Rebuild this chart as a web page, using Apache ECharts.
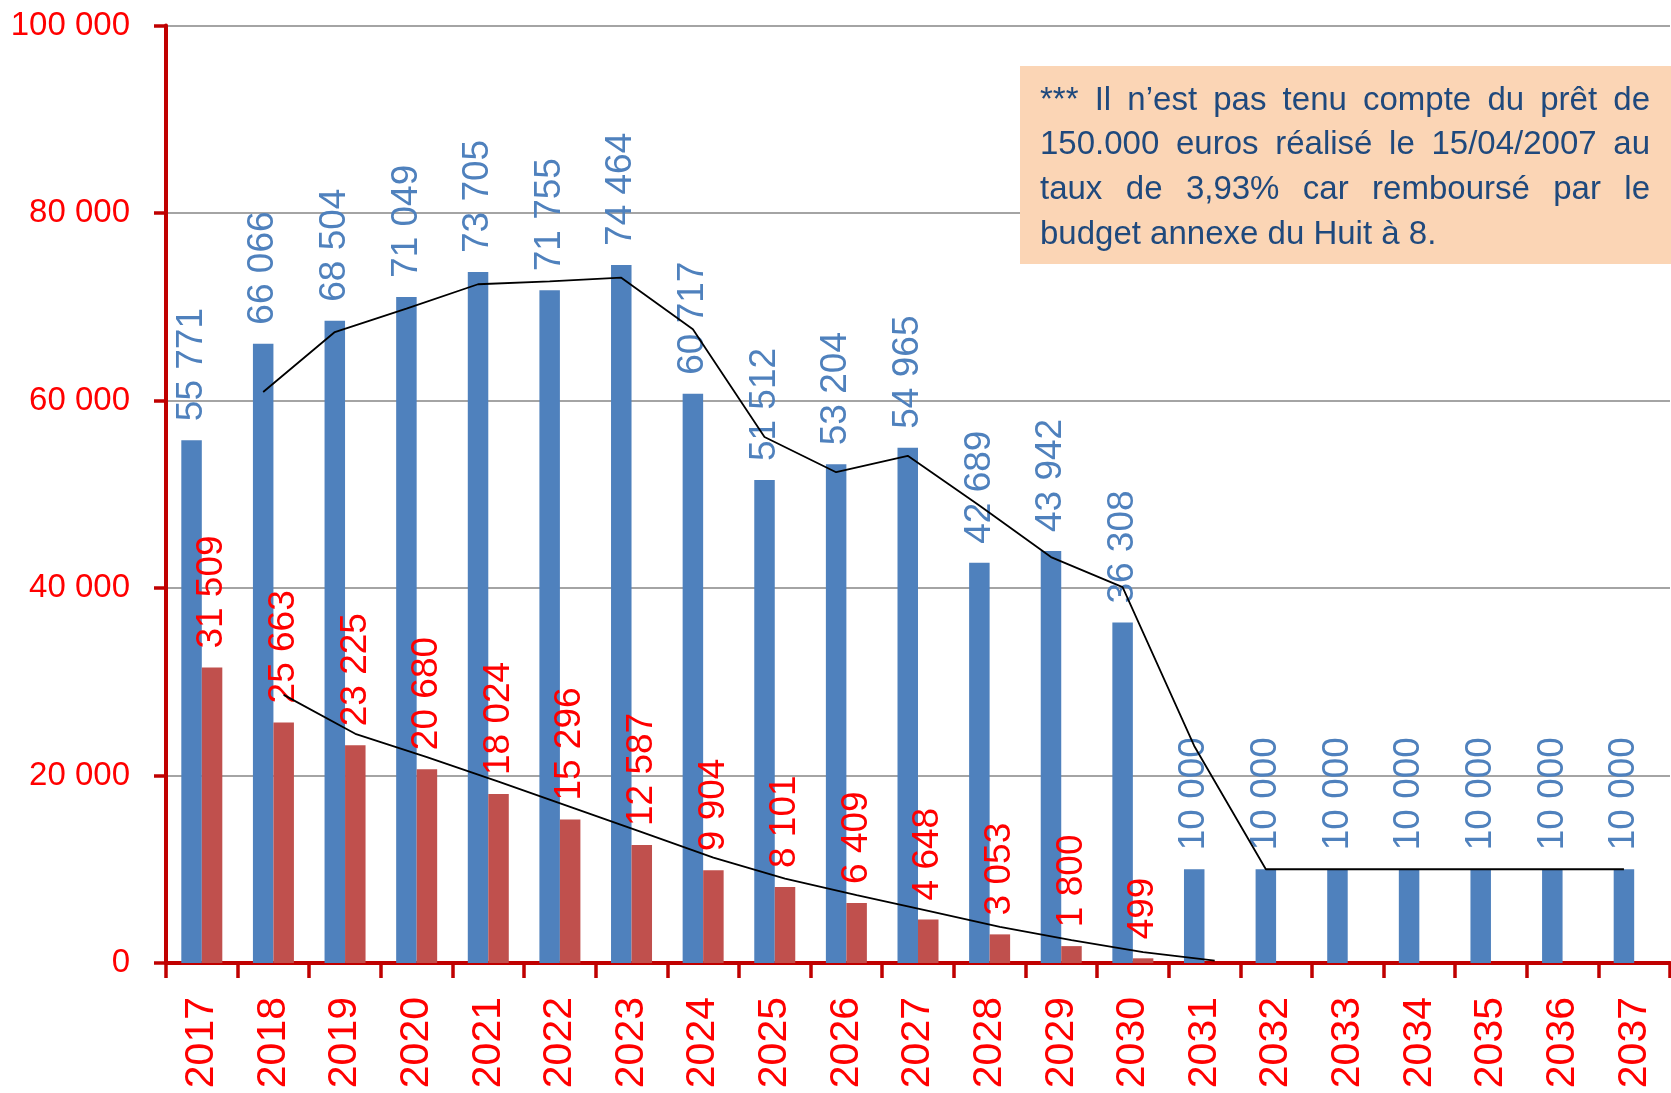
<!DOCTYPE html>
<html>
<head>
<meta charset="utf-8">
<script src="https://cdn.jsdelivr.net/npm/echarts@6/dist/echarts.min.js"></script>
<style>
html,body{margin:0;padding:0;background:#fff;}
#c{width:1671px;height:1093px;}
</style>
</head>
<body>
<div id="c"></div>
<script>
// ---- data ----
const categories = ['2017','2018','2019','2020','2021','2022','2023','2024','2025','2026','2027','2028','2029','2030','2031','2032','2033','2034','2035','2036','2037'];
const blueValues = [55771, 66066, 68504, 71049, 73705, 71755, 74464, 60717, 51512, 53204, 54965, 42689, 43942, 36308, 10000, 10000, 10000, 10000, 10000, 10000, 10000];
const redValues = [31509, 25663, 23225, 20680, 18024, 15296, 12587, 9904, 8101, 6409, 4648, 3053, 1800, 499, null, null, null, null, null, null, null];
const blueTrend = [null, 60900, 67300, 69800, 72400, 72700, 73100, 67600, 56100, 52350, 54100, 48800, 43300, 40100, 23150, 10000, 10000, 10000, 10000, 10000, 10000];
const redTrend = [null, 28600, 24450, 21950, 19350, 16650, 13950, 11250, 9000, 7250, 5550, 3850, 2450, 1150, 250];
const yMin = 0, yMax = 100000, yInterval = 20000;
const noteLines = [
  '*** Il n\u2019est pas tenu compte du prêt de',
  '150.000 euros réalisé le 15/04/2007 au',
  'taux de 3,93% car remboursé par le',
  'budget annexe du Huit à 8.'
];

// ---- layout / style ----
const W = 1671, H = 1093;
const gridLeft = 166, gridRight = 1, gridTop = 25.5, gridBottom = 130;
const barW = 20.5;
const FONT = '"Liberation Sans", Arial, sans-serif';
const fmt = v => (v === null || v === undefined) ? '' : String(Math.round(v)).replace(/\B(?=(\d{3})+(?!\d))/g, ' ');

const catW = (W - gridLeft - gridRight) / categories.length;
const off = (barW / 2) / catW;
function trendData(arr, shift) {
  const out = [];
  arr.forEach((v, i) => { if (v !== null) out.push([i + shift, v]); });
  return out;
}

// justified note
const box = {x: 1020, y: 66, w: 651, h: 198};
const textLeft = 1040, textRight = 1650, noteSize = 33, lineY0 = 100.5, lineStep = 44.7;
const meas = document.createElement('canvas').getContext('2d');
meas.font = noteSize + 'px ' + FONT;
const noteGraphics = [{
  type: 'rect', z: 100,
  shape: {x: box.x, y: box.y, width: box.w, height: box.h},
  style: {fill: '#FBD5B5'}
}];
noteLines.forEach((line, li) => {
  const words = line.split(' ');
  const y = lineY0 + li * lineStep;
  const justify = li < noteLines.length - 1;
  const widths = words.map(w => meas.measureText(w).width);
  const total = widths.reduce((a, b) => a + b, 0);
  const gap = justify ? (textRight - textLeft - total) / (words.length - 1) : meas.measureText(' ').width;
  let x = textLeft;
  words.forEach((w, wi) => {
    noteGraphics.push({
      type: 'text', z: 101, x: x, y: y,
      style: {text: w, fill: '#1F497D', font: noteSize + 'px ' + FONT, textVerticalAlign: 'middle', verticalAlign: 'middle'}
    });
    x += widths[wi] + gap;
  });
});

const chart = echarts.init(document.getElementById('c'), null, {renderer: 'canvas'});
chart.setOption({
  backgroundColor: '#fff',
  animation: false,
  grid: {left: gridLeft, right: gridRight, top: gridTop, bottom: gridBottom, containLabel: false},
  xAxis: [{
    type: 'category',
    data: categories,
    boundaryGap: true,
    axisLine: {show: true, onZero: false, lineStyle: {color: '#C00000', width: 4}},
    axisTick: {show: true, inside: false, length: 15, alignWithLabel: false, lineStyle: {color: '#C00000', width: 3.5}},
    axisLabel: {rotate: 90, color: '#FF0000', fontSize: 41, fontFamily: FONT, margin: 34, interval: 0},
    splitLine: {show: false}
  }, {
    type: 'value', show: false, min: -0.5, max: categories.length - 0.5
  }],
  yAxis: {
    type: 'value',
    min: yMin, max: yMax, interval: yInterval,
    axisLine: {show: true, onZero: false, lineStyle: {color: '#C00000', width: 4}},
    axisTick: {show: true, inside: false, length: 12, lineStyle: {color: '#C00000', width: 3.5}},
    axisLabel: {color: '#FF0000', fontSize: 33, fontFamily: FONT, margin: 36, formatter: v => fmt(v)},
    splitLine: {show: true, lineStyle: {color: '#868686', width: 1.5}}
  },
  series: [{
    type: 'bar', name: 'A', data: blueValues, barWidth: barW, barGap: '0%',
    itemStyle: {color: '#4F81BD'},
    label: {show: true, position: 'top', rotate: 90, align: 'left', verticalAlign: 'middle', distance: 19,
      color: '#4F81BD', fontSize: 37, fontFamily: FONT, formatter: p => fmt(p.value)}
  }, {
    type: 'bar', name: 'B', data: redValues, barWidth: barW, barGap: '0%',
    itemStyle: {color: '#C0504D'},
    label: {show: true, position: 'top', rotate: 90, align: 'left', verticalAlign: 'middle', distance: 19,
      color: '#FF0000', fontSize: 37, fontFamily: FONT, formatter: p => fmt(p.value)}
  }, {
    type: 'line', xAxisIndex: 1, data: trendData(blueTrend, -off), symbol: 'none', z: 5,
    lineStyle: {color: '#000', width: 1.8}
  }, {
    type: 'line', xAxisIndex: 1, data: trendData(redTrend, off), symbol: 'none', z: 5,
    lineStyle: {color: '#000', width: 1.8}
  }],
  graphic: noteGraphics
});
</script>
</body>
</html>
